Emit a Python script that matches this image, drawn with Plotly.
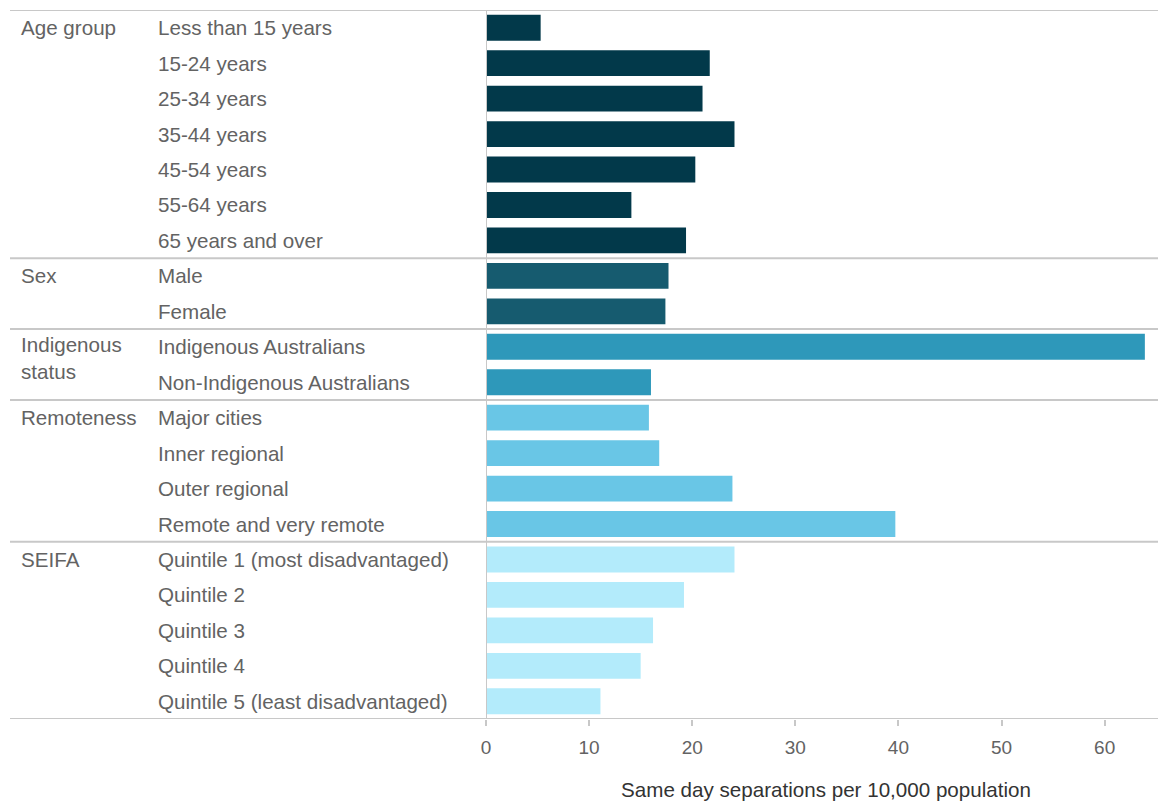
import plotly.graph_objects as go

groups = ["Age group", "Sex", "Indigenous<br>status", "Remoteness", "SEIFA"]
group_sizes = [7, 2, 2, 4, 5]
group_colors = ["#02394A", "#165B6F", "#2E98BA", "#69C6E6", "#B3EBFB"]

categories = [
    "Less than 15 years", "15-24 years", "25-34 years", "35-44 years", "45-54 years",
    "55-64 years", "65 years and over",
    "Male", "Female",
    "Indigenous Australians", "Non-Indigenous Australians",
    "Major cities", "Inner regional", "Outer regional", "Remote and very remote",
    "Quintile 1 (most disadvantaged)", "Quintile 2", "Quintile 3", "Quintile 4",
    "Quintile 5 (least disadvantaged)",
]
values = [5.3, 21.7, 21.0, 24.1, 20.3, 14.1, 19.4,
          17.7, 17.4,
          63.9, 16.0,
          15.8, 16.8, 23.9, 39.7,
          24.1, 19.2, 16.2, 15.0, 11.1]

x_title = "Same day separations per 10,000 population"
x_ticks = [0, 10, 20, 30, 40, 50, 60]

OFF = 8  # page body margin
W, H = 1166 - OFF, 804 - OFF
ML, MR, MT, MB = 486 - OFF, 0, 10 - OFF, 85
PW = W - ML - MR

colors = []
group_start = []
idx = 0
for g, n, c in zip(groups, group_sizes, group_colors):
    group_start.append(idx)
    colors += [c] * n
    idx += n

ypos = list(range(len(categories)))

fig = go.Figure()
fig.add_trace(go.Bar(
    x=values, y=ypos, orientation="h", marker=dict(color=colors, line=dict(width=0)),
    width=0.73, showlegend=False, hoverinfo="x+text", text=categories, textposition="none",
))

label_color = "#636363"
font_family = "Liberation Sans, Arial, sans-serif"
px_to_paper = lambda px: (px - OFF - ML) / PW

annotations = []
for i, cat in enumerate(categories):
    annotations.append(dict(
        x=px_to_paper(156), xref="paper", y=i, yref="y", text=cat, showarrow=False,
        xanchor="left", yanchor="middle", font=dict(size=20.6, color=label_color, family=font_family),
    ))
for g, s in zip(groups, group_start):
    nlines = g.count("<br>") + 1
    annotations.append(dict(
        x=px_to_paper(19), xref="paper", y=s, yref="y", text=g, showarrow=False,
        xanchor="left", yanchor="middle", align="left", yshift=-11.5 * (nlines - 1),
        font=dict(size=20.6, color=label_color, family=font_family),
    ))

shapes = []
bounds = [-0.5] + [s - 0.5 for s in group_start[1:]] + [len(categories) - 0.5]
for b in bounds:
    shapes.append(dict(type="line", xref="paper", yref="y", x0=px_to_paper(10), x1=1,
                       y0=b, y1=b, line=dict(color="#c8c8c8", width=2), layer="above"))
shapes.append(dict(type="line", xref="x", yref="paper", x0=0, x1=0, y0=0, y1=1,
                   line=dict(color="#c8c8c8", width=2), layer="above"))

fig.update_layout(
    width=W, height=H, margin=dict(l=ML, r=MR, t=MT, b=MB),
    plot_bgcolor="white", paper_bgcolor="white",
    annotations=annotations, shapes=shapes, bargap=0.27,
    font=dict(family=font_family, color=label_color),
)
fig.update_xaxes(
    range=[0, 65.95], tickvals=x_ticks, showgrid=False, zeroline=False, showline=False,
    ticks="outside", ticklen=6, tickwidth=2, tickcolor="#c8c8c8",
    tickfont=dict(size=19, color=label_color), ticklabelstandoff=5,
    title=dict(text=x_title, font=dict(size=20.6, color="#333333"), standoff=25),
)
fig.update_yaxes(
    range=[len(categories) - 0.5, -0.5], showticklabels=False, showgrid=False,
    zeroline=False, showline=False, ticks="",
)

fig.write_html("out.html", post_script="document.body.style.overflow='hidden';")
